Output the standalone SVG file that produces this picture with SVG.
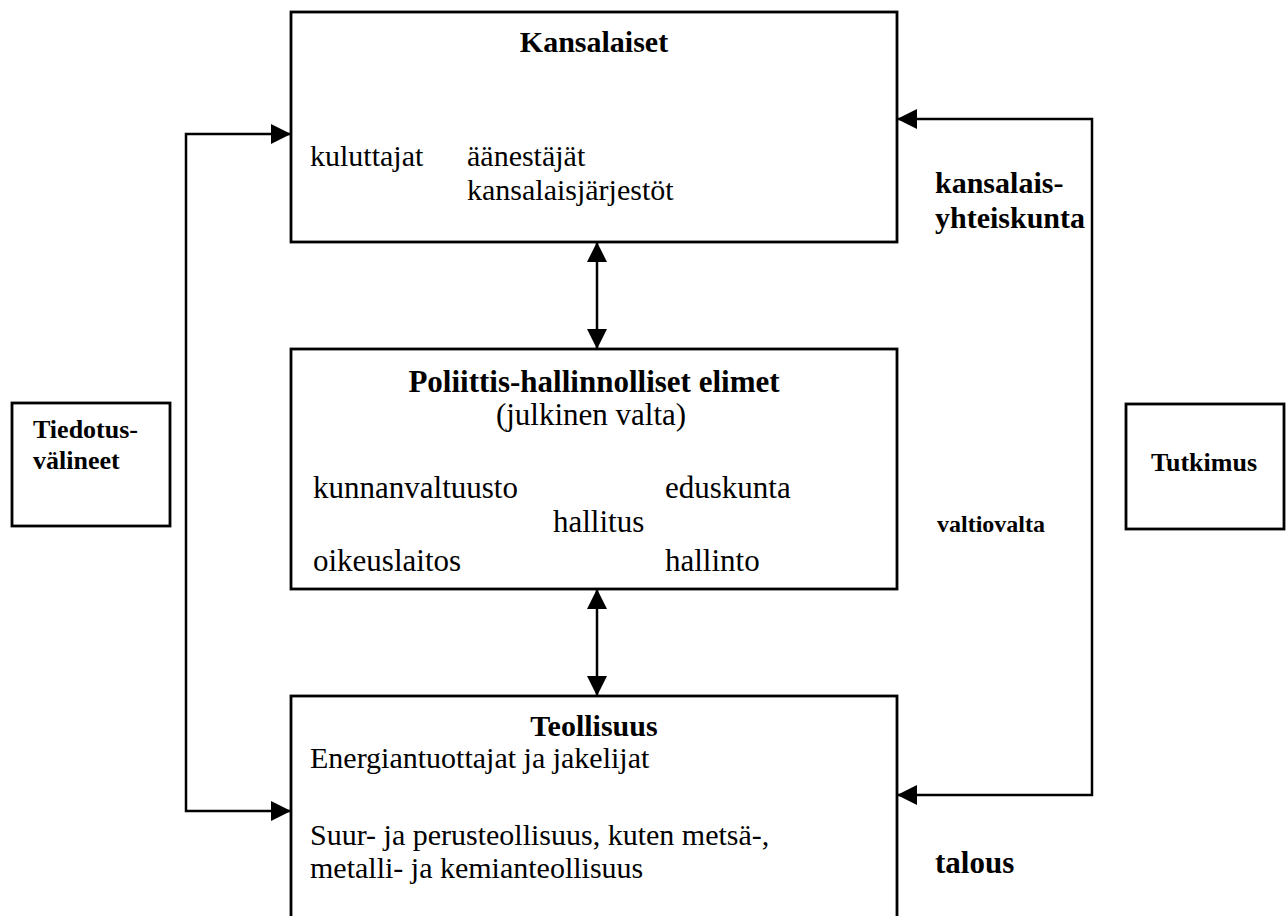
<svg xmlns="http://www.w3.org/2000/svg" width="1288" height="916" viewBox="0 0 1288 916">
<style>
.box{fill:#fff;stroke:#000;stroke-width:2.8}
.ln{fill:none;stroke:#000;stroke-width:2.5}
text{font-family:"Liberation Serif","Times New Roman",serif;fill:#000}
.t{font-size:30px}
.tm{font-size:31px}
.b{font-size:30px;font-weight:bold}
.bm{font-size:31px;font-weight:bold}
.bs{font-size:26px;font-weight:bold}
.bl{font-size:30px;font-weight:bold}
.bv{font-size:24px;font-weight:bold}
.c{text-anchor:middle}
</style>
<defs>
<marker id="ah" viewBox="0 0 20 20" refX="20" refY="10" markerWidth="20" markerHeight="20" markerUnits="userSpaceOnUse" orient="auto-start-reverse">
<path d="M0,0 L20,10 L0,20 Z" fill="#000"/>
</marker>
</defs>
<rect width="1288" height="916" fill="#fff"/>
<g id="connectors">
<path class="ln" d="M291,134 L186,134 L186,811 L291,811" marker-start="url(#ah)" marker-end="url(#ah)"/>
<path class="ln" d="M897,119 L1092,119 L1092,795 L897,795" marker-start="url(#ah)" marker-end="url(#ah)"/>
<path class="ln" d="M597,242 L597,349" marker-start="url(#ah)" marker-end="url(#ah)"/>
<path class="ln" d="M597,589 L597,696" marker-start="url(#ah)" marker-end="url(#ah)"/>
</g>
<g id="kansalaiset">
<rect class="box" x="291" y="12" width="606" height="230"/>
<text class="b c" x="594" y="52">Kansalaiset</text>
<text class="t" x="310" y="166">kuluttajat</text>
<text class="t" x="467" y="166">äänestäjät</text>
<text class="t" x="467" y="200">kansalaisjärjestöt</text>
</g>
<g id="poliittis">
<rect class="box" x="291" y="349" width="606" height="240"/>
<text class="bm c" x="594" y="392">Poliittis-hallinnolliset elimet</text>
<text class="tm c" x="591" y="425">(julkinen valta)</text>
<text class="tm" x="313" y="498">kunnanvaltuusto</text>
<text class="tm" x="665" y="498">eduskunta</text>
<text class="tm" x="553" y="532">hallitus</text>
<text class="tm" x="313" y="571">oikeuslaitos</text>
<text class="tm" x="665" y="571">hallinto</text>
</g>
<g id="teollisuus">
<rect class="box" x="291" y="696" width="606" height="240"/>
<text class="b c" x="594" y="736">Teollisuus</text>
<text class="t" x="310" y="768">Energiantuottajat ja jakelijat</text>
<text class="t" x="310" y="845">Suur- ja perusteollisuus, kuten metsä-,</text>
<text class="t" x="310" y="878">metalli- ja kemianteollisuus</text>
</g>
<g id="tiedotus">
<rect class="box" x="12" y="403" width="158" height="123"/>
<text class="bs" x="33" y="438">Tiedotus-</text>
<text class="bs" x="33" y="469">välineet</text>
</g>
<g id="tutkimus">
<rect class="box" x="1126" y="404" width="158" height="125"/>
<text class="bs c" x="1204" y="471">Tutkimus</text>
</g>
<g id="labels">
<text class="bl" x="935" y="193">kansalais-</text>
<text class="bl" x="935" y="228">yhteiskunta</text>
<text class="bv" x="937" y="532">valtiovalta</text>
<text class="bm" x="935" y="873">talous</text>
</g>
</svg>
